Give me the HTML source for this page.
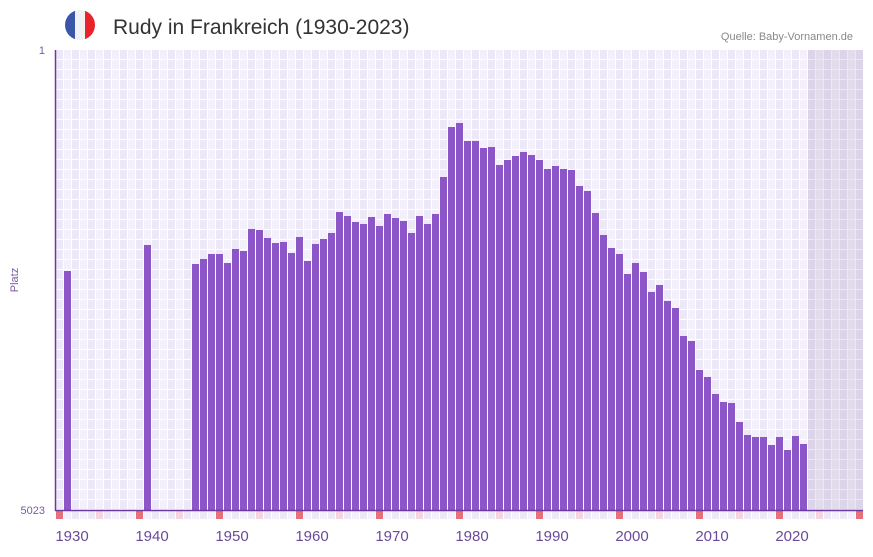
<!DOCTYPE html>
<html><head><meta charset="utf-8"><style>
body{margin:0;background:#fff;font-family:"Liberation Sans",sans-serif}
</style></head><body>
<svg width="873" height="552" xmlns="http://www.w3.org/2000/svg" id="s" font-family="Liberation Sans, sans-serif">
<defs>
<pattern id="g" x="56" y="50" width="16" height="10" patternUnits="userSpaceOnUse">
<rect width="8" height="10" fill="#ede8f8"/><rect x="8" width="8" height="10" fill="#f3effb"/>
<rect x="7" width="1" height="10" fill="#fff"/><rect x="15" width="1" height="10" fill="#fff"/>
<rect y="9" width="16" height="1" fill="#fff"/>
</pattern>
<clipPath id="c"><circle cx="80" cy="25" r="15"/></clipPath>
</defs>
<rect x="56" y="50" width="807" height="460" fill="url(#g)"/>
<rect x="808" y="50" width="55" height="460" fill="#9080a8" opacity="0.18"/>
<g clip-path="url(#c)"><rect x="65" y="10" width="10" height="30" fill="#3a56a8"/><rect x="75" y="10" width="10" height="30" fill="#f2f2f4"/><rect x="85" y="10" width="10" height="30" fill="#e8232b"/></g>
<text x="113" y="34" font-size="21" fill="#333">Rudy in Frankreich (1930-2023)</text>
<text x="853" y="40" font-size="11" fill="#888" text-anchor="end">Quelle: Baby-Vornamen.de</text>
<text x="45" y="54" font-size="11" fill="#7a5aa8" text-anchor="end">1</text>
<text x="45" y="514" font-size="11" fill="#7a5aa8" text-anchor="end">5023</text>
<text x="18" y="280" font-size="11" fill="#7a5aa8" text-anchor="middle" transform="rotate(-90 18 280)">Platz</text>
<g id="bars" fill="#8c55c8"></g>
<g id="mk"></g>
<line x1="55.5" y1="50" x2="55.5" y2="511" stroke="#6a3aa0" stroke-width="1.5"/>
<line x1="55" y1="510.5" x2="863" y2="510.5" stroke="#6a3aa0" stroke-width="1.5"/>
<g font-size="15" fill="#6a4a9a" text-anchor="middle">
<text x="72" y="541">1930</text><text x="152" y="541">1940</text><text x="232" y="541">1950</text><text x="312" y="541">1960</text><text x="392" y="541">1970</text><text x="472" y="541">1980</text><text x="552" y="541">1990</text><text x="632" y="541">2000</text><text x="712" y="541">2010</text><text x="792" y="541">2020</text>
</g>
</svg>
<script>
var d={1930:271,1940:245,1946:264,1947:259,1948:254,1949:254,1950:263,1951:249,1952:251,1953:229,1954:230,1955:238,1956:243,1957:242,1958:253,1959:237,1960:261,1961:244,1962:239,1963:233,1964:212,1965:216,1966:222,1967:224,1968:217,1969:226,1970:214,1971:218,1972:221,1973:233,1974:216,1975:224,1976:214,1977:177,1978:127,1979:123,1980:141,1981:141,1982:148,1983:147,1984:165,1985:160,1986:156,1987:152,1988:155,1989:160,1990:169,1991:166,1992:169,1993:170,1994:186,1995:191,1996:213,1997:235,1998:248,1999:254,2000:274,2001:263,2002:272,2003:292,2004:285,2005:301,2006:308,2007:336,2008:341,2009:370,2010:377,2011:394,2012:402,2013:403,2014:422,2015:435,2016:437,2017:437,2018:445,2019:437,2020:450,2021:436,2022:444};
var ns="http://www.w3.org/2000/svg",b=document.getElementById("bars"),m=document.getElementById("mk");
for(var y in d){var r=document.createElementNS(ns,"rect");var x=64+(y-1930)*8;r.setAttribute("x",x);r.setAttribute("y",d[y]);r.setAttribute("width",7);r.setAttribute("height",510-d[y]);b.appendChild(r);}
for(var yr=1929;yr<2030;yr++){var k=(yr-1929)%10;var c=k==0?"#e8707a":k==5?"#f5d5e0":(k%2?"#f3effb":"#ede8f8");var r=document.createElementNS(ns,"rect");r.setAttribute("x",56+(yr-1929)*8);r.setAttribute("y",511);r.setAttribute("width",7);r.setAttribute("height",8);r.setAttribute("fill",c);m.appendChild(r);}
</script>
</body></html>
